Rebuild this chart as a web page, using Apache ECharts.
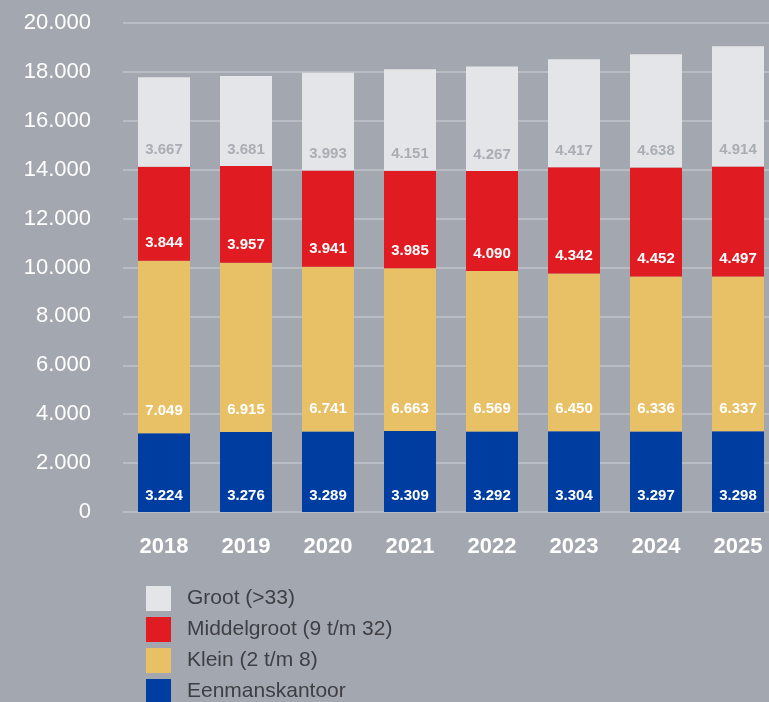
<!DOCTYPE html>
<html>
<head>
<meta charset="utf-8">
<script src="https://cdn.jsdelivr.net/npm/echarts@6/dist/echarts.min.js"></script>
<style>
  html, body { margin: 0; padding: 0; background: #a3a7af; }
  #main { width: 769px; height: 702px; }
</style>
</head>
<body>
<div id="main"></div>
<script>
const years = ['2018', '2019', '2020', '2021', '2022', '2023', '2024', '2025'];
const eenmans = [3224, 3276, 3289, 3309, 3292, 3304, 3297, 3298];
const klein = [7049, 6915, 6741, 6663, 6569, 6450, 6336, 6337];
const middelgroot = [3844, 3957, 3941, 3985, 4090, 4342, 4452, 4497];
const groot = [3667, 3681, 3993, 4151, 4267, 4417, 4638, 4914];

const fmt = v => String(v).replace(/\B(?=(\d{3})+(?!\d))/g, '.');

function bar(name, data, color, labelColor, dist) {
  return {
    name: name,
    type: 'bar',
    stack: 'total',
    data: data,
    barWidth: 52,
    itemStyle: { color: color },
    label: {
      show: true,
      position: 'insideBottom',
      distance: dist,
      color: labelColor,
      fontFamily: 'Liberation Sans',
      fontWeight: 'bold',
      fontSize: 15,
      formatter: p => fmt(p.value)
    }
  };
}

let myChart = echarts.init(document.getElementById('main'));
myChart.setOption({
  backgroundColor: '#a3a7af',
  animation: false,
  grid: { left: 123, top: 23, width: 656, height: 489, outerBoundsMode: 'none' },
  legend: {
    orient: 'vertical',
    left: 141,
    top: 581,
    height: 160,
    itemWidth: 25,
    itemHeight: 25,
    itemGap: 6,
    icon: 'rect',
    data: ['Groot (>33)', 'Middelgroot (9 t/m 32)', 'Klein (2 t/m 8)', 'Eenmanskantoor'],
    textStyle: {
      color: '#3d3f44',
      fontSize: 21,
      fontFamily: 'Liberation Sans',
      padding: [0, 0, 0, 11]
    }
  },
  xAxis: {
    type: 'category',
    data: years,
    axisLine: { show: false },
    axisTick: { show: false },
    axisLabel: {
      color: '#ffffff',
      fontSize: 22,
      fontWeight: 'bold',
      fontFamily: 'Liberation Sans',
      margin: 24
    }
  },
  yAxis: {
    type: 'value',
    min: 0,
    max: 20000,
    interval: 2000,
    axisLine: { show: false },
    axisTick: { show: false },
    splitLine: { lineStyle: { color: '#b9bcc3', width: 2 } },
    axisLabel: {
      color: '#ffffff',
      fontSize: 22,
      fontFamily: 'Liberation Sans',
      margin: 32,
      padding: [0, 0, 5, 0],
      formatter: v => fmt(v)
    }
  },
  series: [
    bar('Eenmanskantoor', eenmans, '#003da0', '#ffffff', 9),
    bar('Klein (2 t/m 8)', klein, '#e8c066', '#ffffff', 15),
    bar('Middelgroot (9 t/m 32)', middelgroot, '#e01b22', '#ffffff', 10),
    bar('Groot (>33)', groot, '#e4e5e9', '#a9adb4', 9)
  ]
});
</script>
</body>
</html>
